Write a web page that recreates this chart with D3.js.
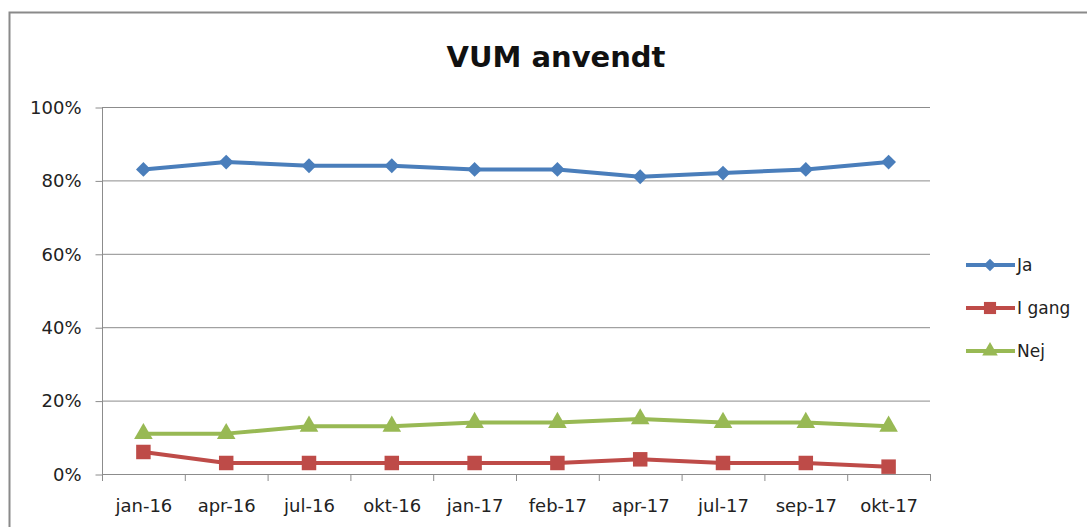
<!DOCTYPE html>
<html><head><meta charset="utf-8">
<script src="https://cdn.jsdelivr.net/npm/d3@7/dist/d3.min.js"></script>
<style>body{margin:0;background:#fff}svg{display:block}</style>
</head><body>
<script>
const categories = ["jan-16","apr-16","jul-16","okt-16","jan-17","feb-17","apr-17","jul-17","sep-17","okt-17"];
const ja = [83,85,84,84,83,83,81,82,83,85];
const igang = [6,3,3,3,3,3,4,3,3,2];
const nej = [11,11,13,13,14,14,15,14,14,13];
const yTicks = [0,20,40,60,80,100];
const seriesNames = ["Ja","I gang","Nej"];

const W=1087,H=527;
const svg=d3.select("body").append("svg").attr("width",W).attr("height",H);
const font="DejaVu Sans, Verdana, sans-serif";
svg.append("rect").attr("x",9.5).attr("y",12.5).attr("width",W+10).attr("height",H+10)
  .attr("fill","#fff").attr("stroke","#8a8a8a").attr("stroke-width",2);

const L=102,R=930,T=107,B=474;
const x=d3.scaleBand().domain(categories).range([L,R]);
const y=d3.scaleLinear().domain([0,100]).range([B,T]);

svg.append("text").attr("x",556).attr("y",67).attr("text-anchor","middle")
  .attr("font-family",font).attr("font-weight","bold").attr("font-size",29).attr("fill","#111").text("VUM anvendt");

svg.append("g").selectAll("line").data(yTicks.filter(d=>d>0)).join("line")
  .attr("x1",L).attr("x2",R).attr("y1",d=>y(d)+0.5).attr("y2",d=>y(d)+0.5)
  .attr("stroke","#8c8c8c").attr("stroke-width",1);

const yAxis=svg.append("g").attr("transform",`translate(${L+0.5},0.5)`)
  .call(d3.axisLeft(y).tickValues(yTicks).tickFormat(d=>d+"%").tickSize(7).tickPadding(14));
const xAxis=svg.append("g").attr("transform",`translate(0.5,${B+0.5})`)
  .call(d3.axisBottom(x).tickSize(0).tickPadding(25));
[yAxis,xAxis].forEach(g=>{
  g.selectAll("path,line").attr("stroke","#8c8c8c");
  g.selectAll("text").attr("font-family",font).attr("font-size",18).attr("fill","#222");
});
yAxis.select(".domain").attr("d",`M0,${T}V${B}`);
xAxis.select(".domain").attr("d",`M${L},0H${R}`);
svg.append("g").selectAll("line").data(d3.range(categories.length+1)).join("line")
  .attr("x1",i=>L+i*x.step()+0.5).attr("x2",i=>L+i*x.step()+0.5)
  .attr("y1",B).attr("y2",B+7).attr("stroke","#8c8c8c");

const cx=c=>x(c)+x.bandwidth()/2;
const rotSquare={draw(ctx,size){const r=Math.sqrt(size/2);ctx.moveTo(0,-r);ctx.lineTo(r,0);ctx.lineTo(0,r);ctx.lineTo(-r,0);ctx.closePath();}};
const series=[
 {name:seriesNames[0],vals:ja,color:"#4A7EBB",sym:rotSquare,size:110},
 {name:seriesNames[1],vals:igang,color:"#BE4B48",sym:d3.symbolSquare,size:210},
 {name:seriesNames[2],vals:nej,color:"#98B954",sym:d3.symbolTriangle,size:150}
];
const line=d3.line().x((d,i)=>cx(categories[i])).y(d=>y(d));
series.forEach(s=>{
  svg.append("path").datum(s.vals).attr("d",line).attr("fill","none")
    .attr("stroke",s.color).attr("stroke-width",4).attr("stroke-linejoin","round");
  svg.append("g").selectAll("path").data(s.vals).join("path")
    .attr("d",d3.symbol().type(s.sym).size(s.size))
    .attr("transform",(d,i)=>`translate(${cx(categories[i])},${y(d)})`)
    .attr("fill",s.color);
});

const lg=svg.append("g");
series.forEach((s,i)=>{
  const ly=265+i*43;
  lg.append("line").attr("x1",966).attr("x2",1015).attr("y1",ly).attr("y2",ly)
    .attr("stroke",s.color).attr("stroke-width",4);
  lg.append("path").attr("d",d3.symbol().type(s.sym).size(s.size*0.7)())
    .attr("transform",`translate(990,${ly})`).attr("fill",s.color);
  lg.append("text").attr("x",1017).attr("y",ly+6).attr("font-family",font).attr("font-size",17)
    .attr("fill","#222").text(s.name);
});
</script>
</body></html>
